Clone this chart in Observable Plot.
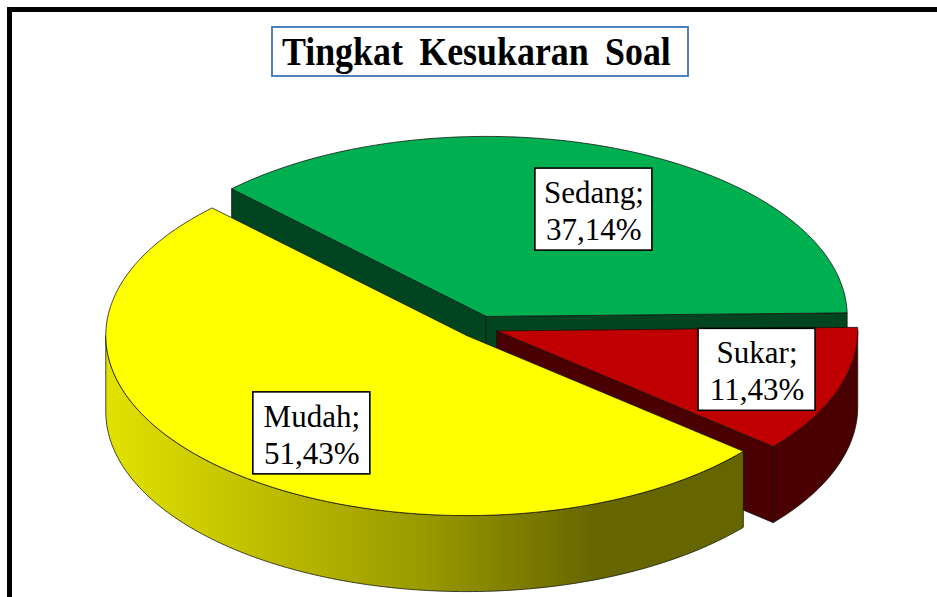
<!DOCTYPE html>
<html>
<head>
<meta charset="utf-8">
<script src="https://cdn.jsdelivr.net/npm/d3@7"></script>
<script src="https://cdn.jsdelivr.net/npm/@observablehq/plot@0.6"></script>
<style>
  body { margin: 0; background: #fff; }
  #wrap { position: relative; width: 937px; height: 597px; overflow: hidden; background: #fff; }
  #chart { position: absolute; left: 0; top: 0; }
  #frame { position: absolute; left: 7px; top: 7px; right: -20px; bottom: -20px;
           border-left: 5px solid #000; border-top: 5px solid #000; pointer-events: none; }
  #title { position: absolute; left: 271px; top: 26px; width: 414px; height: 47px;
           border: 2px solid #4f81bd; background: #fff; text-align: center; overflow: visible; white-space: nowrap; }
  #title span { display: inline-block; font-family: "Liberation Serif", "Times New Roman", serif;
           font-weight: bold; font-size: 39px; line-height: 47px; word-spacing: 8px;
           transform: scaleX(0.92); transform-origin: center; margin-left: -8px; }
</style>
</head>
<body>
<div id="wrap">
  <div id="chart"></div>
  <div id="frame"></div>
  <div id="title"><span>Tingkat Kesukaran Soal</span></div>
</div>
<script>
// ---- data ----
const categories = ["Mudah", "Sedang", "Sukar"];
const values = [51.43, 37.14, 11.43];
const valueLabels = ["51,43%", "37,14%", "11,43%"];

// ---- styles / layout ----
const topColors = ["#ffff00", "#00b050", "#c00000"];
const sideColors = ["url(#mudahSide)", "#00451f", "#4a0000"];
const W = 937, H = 597;
const cx = 478.8, cy = 326.6, rx = 361, ry = 180;  // pie centre and radii (px)
const depth = 76 / ry;                              // thickness in y units
const firstSliceAngle = 130;                        // degrees clockwise from 12 o'clock
const explodeX = 0.0512, explodeY = 0.064;
const labelR = 0.7;
const labelNudge = [[16, 5], [13, 10], [22, -3]];   // px nudges of label boxes (layout)
const boxW = 117 / rx, boxH = 82 / ry;

const start = firstSliceAngle * Math.PI / 180;
const arcs = d3.pie().sort(null).startAngle(start).endAngle(start + 2 * Math.PI)(values);

const slices = arcs.map((p, i) => {
  const a = p.startAngle - Math.PI / 2, b = p.endAngle - Math.PI / 2, m = (a + b) / 2;
  return { i, a, b, m, ox: explodeX * Math.cos(m), oy: explodeY * Math.sin(m) };
});

function arcPts(s, t0, t1, dy) {
  const n = Math.max(2, Math.ceil(Math.abs(t1 - t0) / (Math.PI / 180)));
  const pts = [];
  for (let k = 0; k <= n; k++) {
    const t = t0 + (t1 - t0) * k / n;
    pts.push({ x: s.ox + Math.cos(t), y: s.oy + Math.sin(t) + dy });
  }
  return pts;
}
function closed(pts) { return pts.concat([pts[0]]); }

const faceStyle = { stroke: "#111", strokeWidth: 0.9, strokeOpacity: 0.85, strokeLinejoin: "round" };
const marks = [];
const order = slices.slice().sort((p, q) => Math.sin(p.m) - Math.sin(q.m));
for (const s of order) {
  const side = sideColors[s.i], top = topColors[s.i];
  const flatSide = side.startsWith("url(") ? "#8a8a00" : side;
  const radial = (phi) => closed([
    { x: s.ox, y: s.oy }, { x: s.ox + Math.cos(phi), y: s.oy + Math.sin(phi) },
    { x: s.ox + Math.cos(phi), y: s.oy + Math.sin(phi) + depth }, { x: s.ox, y: s.oy + depth }
  ]);
  if (Math.cos(s.a) < 0) marks.push(Plot.line(radial(s.a), { x: "x", y: "y", fill: flatSide, ...faceStyle }));
  if (Math.cos(s.b) > 0) marks.push(Plot.line(radial(s.b), { x: "x", y: "y", fill: flatSide, ...faceStyle }));
  for (const off of [0, 2 * Math.PI]) {
    const t0 = Math.max(s.a, off), t1 = Math.min(s.b, off + Math.PI);
    if (t1 > t0) {
      const wall = arcPts(s, t0, t1, 0).concat(arcPts(s, t1, t0, depth));
      marks.push(Plot.line(closed(wall), { x: "x", y: "y", fill: side, ...faceStyle }));
    }
  }
  const topPts = [{ x: s.ox, y: s.oy }].concat(arcPts(s, s.a, s.b, 0));
  marks.push(Plot.line(closed(topPts), { x: "x", y: "y", fill: top, ...faceStyle }));
}

// labels
const labels = slices.map(s => ({
  x: s.ox + labelR * Math.cos(s.m) + labelNudge[s.i][0] / rx,
  y: s.oy + labelR * Math.sin(s.m) + labelNudge[s.i][1] / ry,
  text: `${categories[s.i]};\n${valueLabels[s.i]}`
}));
marks.push(Plot.rect(labels, {
  x1: d => d.x - boxW / 2, x2: d => d.x + boxW / 2,
  y1: d => d.y - boxH / 2, y2: d => d.y + boxH / 2,
  fill: "#fff", stroke: "#000", strokeWidth: 1.6
}));
marks.push(Plot.text(labels, {
  x: "x", y: "y", text: "text", fontSize: 31, lineHeight: 1.2,
  fontFamily: "Liberation Serif", fill: "#000"
}));

const svg = Plot.plot({
  width: W, height: H, margin: 0,
  style: { background: "transparent", overflow: "visible" },
  x: { domain: [(0 - cx) / rx, (W - cx) / rx], range: [0, W], axis: null },
  y: { domain: [(0 - cy) / ry, (H - cy) / ry], range: [0, H], axis: null },
  marks
});

const defs = d3.select(svg).insert("defs", ":first-child");
const grad = defs.append("linearGradient").attr("id", "mudahSide")
  .attr("x1", 0).attr("x2", 1).attr("y1", 0).attr("y2", 0);
grad.append("stop").attr("offset", 0).attr("stop-color", "#e2e200");
grad.append("stop").attr("offset", 0.5).attr("stop-color", "#999900");
grad.append("stop").attr("offset", 0.77).attr("stop-color", "#666600");
grad.append("stop").attr("offset", 1).attr("stop-color", "#666600");

document.getElementById("chart").appendChild(svg);
</script>
</body>
</html>
